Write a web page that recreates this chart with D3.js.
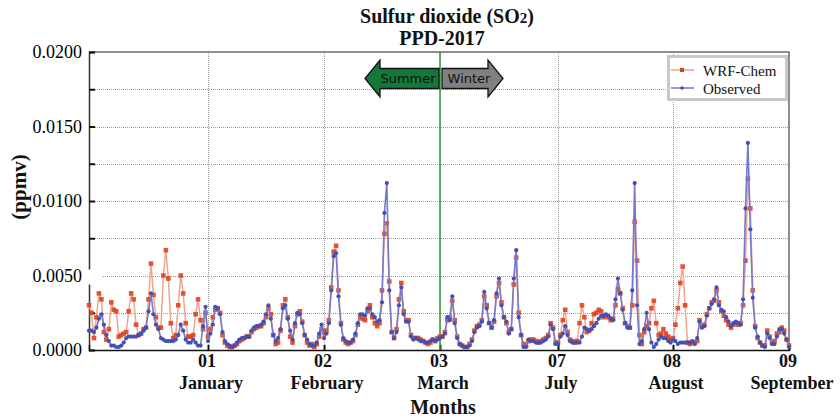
<!DOCTYPE html>
<html>
<head>
<meta charset="utf-8">
<script src="https://cdn.jsdelivr.net/npm/d3@7"></script>
<style>
    body { margin: 0; background: #fff; }
    svg { display: block; }
</style>
</head>
<body>
<svg id="chart" width="840" height="420"></svg>
<script>
/*global d3*/
(function () {
    "use strict";

    // SO2 concentrations, in ppb (divided by 1000 to get ppmv)
    // 48 samples between each pair of month marks, plus the closing sample
    var wrfChem = [
        3.0, 2.5, 0.8, 2.2, 3.8, 3.4, 1.2, 0.7, 1.4, 3.2, 2.7, 2.6, 0.9, 1.0, 1.1, 1.2, 2.6, 3.8, 3.4, 1.7,
        1.0, 1.1, 1.4, 1.5, 3.4, 5.8, 3.7, 2.2, 1.5, 1.5, 5.0, 6.7, 4.8, 1.8, 0.8, 1.0, 3.0, 5.0, 3.8, 1.8,
        0.9, 0.9, 1.0, 2.4, 3.4, 2.0, 1.4, 2.5,
        0.9, 1.4, 2.2, 2.7, 2.8, 2.5, 1.0, 0.5, 0.3, 0.2, 0.2, 0.3, 0.4, 0.6, 0.7, 0.8, 0.9, 0.9, 1.2, 1.4,
        1.5, 1.6, 1.6, 1.8, 2.2, 2.8, 2.4, 1.0, 0.4, 0.5, 1.3, 3.0, 3.4, 2.2, 0.9, 0.5, 1.6, 2.4, 2.6, 1.9,
        1.0, 0.5, 0.3, 0.4, 0.2, 0.4, 0.9, 1.4,
        1.2, 1.3, 2.0, 4.2, 6.6, 7.0, 4.0, 1.8, 0.7, 0.5, 0.4, 0.5, 0.6, 1.0, 1.7, 2.2, 2.1, 2.0, 2.6, 3.0,
        2.2, 1.8, 1.6, 1.8, 4.0, 7.8, 8.5, 4.6, 1.2, 0.8, 1.4, 3.4, 4.5, 2.6, 2.0, 2.0, 1.0, 0.8, 0.8, 0.8,
        0.7, 0.6, 0.5, 0.4, 0.5, 0.7, 0.6, 0.8,
        0.9, 0.9, 1.2, 2.0, 2.2, 3.3, 2.0, 0.9, 0.4, 0.3, 0.2, 0.2, 0.4, 0.7, 1.3, 1.6, 1.7, 2.0, 3.6, 3.0,
        1.8, 1.5, 1.9, 3.6, 4.5, 3.2, 2.2, 1.8, 1.2, 1.4, 4.4, 6.2, 2.5, 1.0, 0.4, 0.3, 0.6, 0.7, 0.7, 0.6,
        0.5, 0.6, 0.7, 0.8, 1.0, 1.8, 1.5, 0.5,
        0.5, 1.0, 2.0, 2.7, 1.2, 0.7, 0.6, 0.5, 0.6, 1.8, 3.0, 2.2, 1.2, 1.3, 1.8, 2.4, 2.5, 2.7, 2.6, 2.2,
        2.3, 2.2, 2.0, 2.1, 3.0, 4.1, 3.8, 2.8, 1.8, 1.6, 1.5, 3.0, 8.6, 6.0, 1.0, 0.4, 1.2, 1.6, 1.8, 2.8,
        3.3, 1.8, 1.0, 1.1, 1.4, 1.1, 0.9, 0.7,
        0.8, 1.7, 2.8, 4.5, 5.6, 3.0, 0.5, 0.4, 0.5, 0.5, 0.6, 2.0, 1.6, 1.7, 2.4, 2.8, 3.2, 3.3, 4.0, 3.2,
        2.6, 2.3, 2.0, 1.7, 1.5, 1.7, 1.8, 1.7, 1.8, 3.0, 6.0, 11.5, 9.5, 4.0, 1.6, 0.8, 0.5, 0.3, 0.3, 1.3,
        0.9, 0.5, 0.6, 1.1, 1.2, 1.5, 1.3, 0.7,
        0.3
    ];
    var observed = [
        1.3, 1.3, 1.2, 1.5, 2.1, 2.4, 1.7, 1.0, 0.6, 0.3, 0.3, 0.2, 0.2, 0.3, 0.5, 0.8, 0.9, 0.9, 0.9, 0.9,
        1.0, 1.1, 1.3, 1.5, 2.6, 3.8, 2.4, 1.7, 1.4, 0.8, 0.7, 0.6, 0.6, 0.6, 0.6, 0.7, 1.0, 1.7, 1.3, 0.7,
        0.5, 0.5, 0.7, 0.5, 0.3, 0.3, 1.6, 2.9,
        0.6, 1.1, 1.7, 2.9, 2.8, 2.4, 1.2, 0.6, 0.4, 0.3, 0.2, 0.3, 0.5, 0.7, 0.8, 0.8, 0.9, 0.9, 1.3, 1.5,
        1.6, 1.6, 1.7, 1.9, 2.4, 3.0, 2.1, 1.0, 0.6, 0.8, 1.4, 2.8, 3.0, 2.1, 1.3, 0.7, 1.8, 2.5, 2.4, 1.8,
        1.0, 0.7, 0.4, 0.3, 0.3, 0.5, 1.1, 1.7,
        0.8, 1.1, 1.8, 4.0, 6.3, 6.5, 3.6, 1.7, 0.8, 0.6, 0.5, 0.5, 0.7, 1.1, 1.8, 2.4, 2.4, 2.3, 2.8, 2.8,
        2.4, 2.2, 1.9, 2.0, 3.2, 9.2, 11.2, 4.0, 1.2, 0.8, 1.2, 3.0, 4.2, 2.4, 1.9, 1.9, 0.9, 0.7, 0.8, 0.7,
        0.6, 0.6, 0.5, 0.5, 0.6, 0.7, 0.6, 0.7,
        0.8, 0.9, 1.1, 2.2, 2.0, 3.6, 1.8, 0.8, 0.4, 0.3, 0.2, 0.2, 0.3, 0.6, 1.2, 1.5, 1.6, 1.9, 3.9, 2.8,
        1.8, 1.5, 2.0, 3.8, 4.8, 3.0, 2.2, 1.9, 1.1, 1.4, 4.8, 6.7, 2.2, 1.0, 0.2, 0.2, 0.7, 0.6, 0.6, 0.5,
        0.5, 0.5, 0.6, 0.7, 0.9, 1.7, 1.4, 0.4,
        0.4, 0.9, 1.1, 1.6, 1.0, 0.6, 0.5, 0.5, 0.5, 0.5, 0.9, 1.5, 1.4, 1.3, 1.4, 1.6, 1.8, 2.1, 2.3, 2.3,
        2.4, 2.3, 2.1, 2.0, 3.4, 4.8, 3.8, 2.7, 1.8, 1.5, 1.5, 4.0, 11.2, 3.0, 0.4, 0.6, 1.4, 2.5, 1.4, 0.5,
        0.2, 0.4, 0.7, 0.9, 0.8, 0.8, 0.6, 0.5,
        0.7, 0.6, 0.4, 0.5, 0.5, 0.5, 0.5, 0.5, 0.6, 0.4, 0.8, 1.9, 1.5, 1.6, 2.3, 2.8, 3.1, 3.4, 4.2, 3.0,
        2.7, 2.6, 2.2, 1.9, 1.6, 1.8, 1.9, 1.8, 1.7, 3.4, 9.5, 13.9, 8.1, 3.5, 1.5, 0.9, 0.5, 0.3, 0.2, 1.1,
        0.8, 0.4, 0.4, 0.9, 1.4, 1.4, 1.1, 0.7,
        0.2
    ];
    var monthMarks = [48, 96, 144, 192, 240, 288];
    var monthNumbers = ["01", "02", "03", "07", "08", "09"];
    var monthNames = ["January", "February", "March", "July", "August", "September"];
    var yTicks = [0, 0.0025, 0.005, 0.0075, 0.01, 0.0125, 0.015, 0.0175, 0.02];
    var seriesNames = ["WRF-Chem", "Observed"];

    var serif = "'Liberation Serif', 'Times New Roman', serif",
        sans = "'DejaVu Sans', sans-serif",
        redDot = "#e0441f",
        redLine = "#f1a48f",
        blueDot = "#4450b2",
        blueLine = "#7479c9";

    var svg = d3.select("#chart");
    var left = 89, right = 789, top = 52, bottom = 350;

    // month marks are not evenly spread in the figure, so use a piecewise scale
    var x = d3.scaleLinear()
        .domain([0].concat(monthMarks))
        .range([left, 208, 324, 440, 558, 673, right]);
    var y = d3.scaleLinear().domain([0, 0.02]).range([bottom, top]);

    var toPpmv = function (d) { return d / 1000; };
    var modelPts = wrfChem.map(function (d, i) { return [i, toPpmv(d)]; });
    var obsPts = observed.map(function (d, i) { return [i, toPpmv(d)]; });

    // grid
    var grid = svg.append("g").attr("stroke", "#9a9a9a").attr("stroke-width", 1)
        .attr("stroke-dasharray", "1,1").attr("shape-rendering", "crispEdges");
    grid.selectAll("line.h").data(yTicks.slice(1, -1)).enter().append("line")
        .attr("x1", left).attr("x2", right)
        .attr("y1", function (d) { return Math.round(y(d)) + 0.5; })
        .attr("y2", function (d) { return Math.round(y(d)) + 0.5; });
    grid.selectAll("line.v").data(monthMarks.slice(0, -1)).enter().append("line")
        .attr("y1", top).attr("y2", bottom)
        .attr("x1", function (d) { return Math.round(x(d)) + 0.5; })
        .attr("x2", function (d) { return Math.round(x(d)) + 0.5; });

    // frame
    svg.append("path")
        .attr("d", "M" + left + "," + top + "H" + right + "V" + bottom)
        .attr("fill", "none").attr("stroke", "#6a6a6a").attr("stroke-width", 1.5);

    // y axis with inward ticks
    var yAxis = d3.axisRight(y).tickValues(yTicks).tickSize(6).tickFormat("");
    var ya = svg.append("g").attr("transform", "translate(" + left + ",0)").call(yAxis);
    ya.select(".domain").attr("stroke", "#333").attr("stroke-width", 1.5);
    ya.selectAll(".tick line").attr("stroke", "#111").attr("stroke-width", 2);

    // x axis
    var xAxis = d3.axisTop(x).tickValues(monthMarks).tickSize(5).tickFormat("");
    var xa = svg.append("g").attr("transform", "translate(0," + bottom + ")").call(xAxis);
    xa.select(".domain").attr("stroke", "#111").attr("stroke-width", 1.5);
    xa.selectAll(".tick line").attr("stroke", "#111").attr("stroke-width", 2);

    // label box of 0.0050 covers the axis a bit, as in the figure
    svg.append("rect").attr("x", 84).attr("y", y(0.005) - 6).attr("width", 19).attr("height", 15)
        .attr("fill", "#fff");

    svg.append("g").selectAll("text").data(yTicks.filter(function (d, i) { return i % 2 === 0; }))
        .enter().append("text")
        .attr("x", 82).attr("y", function (d) { return y(d) + 6; })
        .attr("text-anchor", "end").attr("font-family", serif).attr("font-size", 18)
        .text(d3.format(".4f"));

    var mLabels = svg.append("g").attr("font-family", serif).attr("font-weight", "bold")
        .attr("text-anchor", "middle").attr("fill", "#111");
    mLabels.selectAll("text.num").data(monthMarks).enter().append("text")
        .attr("x", function (d) { return x(d) - 1; }).attr("y", 367)
        .attr("font-size", 18)
        .text(function (d, i) { return monthNumbers[i]; });
    mLabels.selectAll("text.name").data(monthMarks).enter().append("text")
        .attr("x", function (d) { return x(d) + 3; }).attr("y", 389)
        .attr("font-size", 18)
        .text(function (d, i) { return monthNames[i]; });

    // green season divider
    svg.append("line")
        .attr("x1", x(144)).attr("x2", x(144)).attr("y1", top).attr("y2", bottom)
        .attr("stroke", "#2f9a3a").attr("stroke-width", 1.5);

    // series
    var line = d3.line()
        .x(function (d) { return x(d[0]); })
        .y(function (d) { return y(d[1]); });

    svg.append("path").datum(modelPts).attr("d", line)
        .attr("fill", "none").attr("stroke", redLine).attr("stroke-width", 1.5);
    svg.append("g").selectAll("rect").data(modelPts).enter().append("rect")
        .attr("x", function (d) { return x(d[0]) - 2.3; })
        .attr("y", function (d) { return y(d[1]) - 2.3; })
        .attr("width", 4.6).attr("height", 4.6)
        .attr("fill", redDot).attr("fill-opacity", 0.9);

    svg.append("path").datum(obsPts).attr("d", line)
        .attr("fill", "none").attr("stroke", blueLine).attr("stroke-width", 1.6);
    svg.append("g").selectAll("circle").data(obsPts).enter().append("circle")
        .attr("cx", function (d) { return x(d[0]); })
        .attr("cy", function (d) { return y(d[1]); })
        .attr("r", 2.1).attr("fill", blueDot);

    // season arrows
    var mid = x(144), ay = 78.5;
    var summer = [[mid - 1, ay - 10], [380, ay - 10], [380, ay - 18.5], [365, ay],
        [380, ay + 18.5], [380, ay + 10], [mid - 1, ay + 10]];
    var winter = [[mid + 2, ay - 10], [488, ay - 10], [488, ay - 18.5], [503, ay],
        [488, ay + 18.5], [488, ay + 10], [mid + 2, ay + 10]];
    svg.append("polygon").attr("points", summer.join(" "))
        .attr("fill", "#13783a").attr("stroke", "#111").attr("stroke-width", 1.3);
    svg.append("polygon").attr("points", winter.join(" "))
        .attr("fill", "#808080").attr("stroke", "#111").attr("stroke-width", 1.3);
    svg.append("text").attr("x", 408).attr("y", 83).attr("text-anchor", "middle")
        .attr("font-family", sans).attr("font-size", 13).attr("fill", "#111").text("Summer");
    svg.append("text").attr("x", 469).attr("y", 83).attr("text-anchor", "middle")
        .attr("font-family", sans).attr("font-size", 13).attr("fill", "#111").text("Winter");

    // legend
    var lg = svg.append("g").attr("transform", "translate(667,55)");
    lg.append("rect").attr("x", 1.5).attr("y", 1.5).attr("width", 118).attr("height", 43)
        .attr("fill", "#fff").attr("stroke", "#c8c8c8").attr("stroke-width", 3);
    seriesNames.forEach(function (name, i) {
        var ly = 15 + i * 18;
        lg.append("line").attr("x1", 4).attr("x2", 27).attr("y1", ly).attr("y2", ly)
            .attr("stroke", i === 0 ? redLine : blueLine).attr("stroke-width", 1.5);
        if (i === 0) {
            lg.append("rect").attr("x", 13).attr("y", ly - 2).attr("width", 4).attr("height", 4)
                .attr("fill", redDot);
        } else {
            lg.append("circle").attr("cx", 15).attr("cy", ly).attr("r", 1.8).attr("fill", blueDot);
        }
        lg.append("text").attr("x", 36).attr("y", ly + 6)
            .attr("font-family", serif).attr("font-size", 15).attr("fill", "#111").text(name);
    });

    // titles
    var title = svg.append("text").attr("x", 447).attr("y", 23).attr("text-anchor", "middle")
        .attr("font-family", serif).attr("font-weight", "bold").attr("font-size", 20).attr("fill", "#111");
    title.append("tspan").text("Sulfur dioxide (SO");
    title.append("tspan").attr("font-size", 15).text("2");
    title.append("tspan").text(")");
    svg.append("text").attr("x", 442).attr("y", 45).attr("text-anchor", "middle")
        .attr("font-family", serif).attr("font-weight", "bold").attr("font-size", 20).attr("fill", "#111")
        .text("PPD-2017");

    svg.append("text").attr("x", 443).attr("y", 414).attr("text-anchor", "middle")
        .attr("font-family", serif).attr("font-weight", "bold").attr("font-size", 20).attr("fill", "#111")
        .text("Months");
    svg.append("text").attr("transform", "translate(26,187) rotate(-90)").attr("text-anchor", "middle")
        .attr("font-family", serif).attr("font-weight", "bold").attr("font-size", 21).attr("fill", "#111")
        .text("(ppmv)");
}());
</script>
</body>
</html>
